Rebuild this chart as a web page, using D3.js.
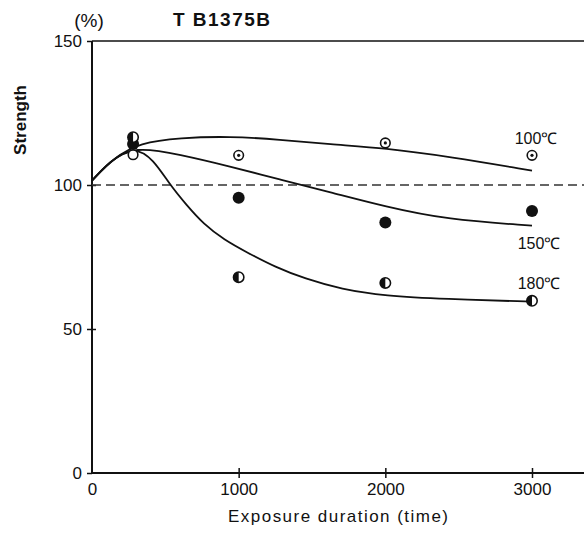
<!DOCTYPE html>
<html>
<head>
<meta charset="utf-8">
<script src="https://cdn.jsdelivr.net/npm/d3@7"></script>
<style>
  body { margin: 0; background: #fff; }
  text { font-family: "Liberation Sans", Arial, sans-serif; fill: #111; }
</style>
</head>
<body>
<div id="chart"></div>
<script>
var svgWidth = 584;
var svgHeight = 533;

// ticks
var xTicks = [0, 1000, 2000, 3000];
var yTicks = [0, 50, 100, 150];

// measured points (exposure time, strength %)
var pts100Time = [280, 1000, 2000, 3000];
var pts100Val = [110.5, 110.3, 114.6, 110.3];
var pts150Time = [280, 1000, 2000, 3000];
var pts150Val = [114.2, 95.6, 87, 91];
var pts180Time = [280, 1000, 2000, 3000];
var pts180Val = [116.6, 68, 66, 59.8];

// fitted curves
var curve100Time = [0, 150, 327, 600, 940, 1280, 1620, 2000, 2440, 3000];
var curve100Val = [101.5, 109.5, 114.7, 116.4, 116.9, 115.8, 114.1, 112.8, 109.8, 105];
var curve150Time = [0, 120, 290, 600, 940, 1280, 1620, 2000, 2418, 3000];
var curve150Val = [101.5, 108.3, 113.5, 110.6, 106.5, 101.9, 97.6, 92.5, 88, 85.9];
var curve180Time = [0, 120, 290, 418, 532, 645, 759, 900, 1060, 1250, 1450, 1700, 2000, 2400, 3000];
var curve180Val = [101.5, 108.3, 113.5, 108.9, 100, 93, 86.5, 81, 76.5, 71.5, 67.5, 63.8, 61.5, 60.4, 59.5];

var seriesLabels = ["100℃", "150℃", "180℃"];

var svg = d3.select("#chart")
  .append("svg")
  .attr("width", svgWidth)
  .attr("height", svgHeight);

var xScale = d3.scaleLinear().domain([0, 3000]).range([92, 532]);
var yScale = d3.scaleLinear().domain([0, 150]).range([473, 41]);

var x0 = xScale(0), yBottom = yScale(0), yTop = yScale(150);

// frame lines (open on the right)
svg.append("line").attr("x1", x0).attr("x2", x0).attr("y1", yTop).attr("y2", yBottom)
  .attr("stroke", "#111").attr("stroke-width", 2);
svg.append("line").attr("x1", x0).attr("x2", svgWidth).attr("y1", yTop).attr("y2", yTop)
  .attr("stroke", "#111").attr("stroke-width", 1.6);
svg.append("line").attr("x1", x0).attr("x2", svgWidth).attr("y1", yBottom).attr("y2", yBottom)
  .attr("stroke", "#111").attr("stroke-width", 2);

// axes: ticks crossing the line
function styleAxis(g) {
  g.select(".domain").remove();
  g.selectAll(".tick line").attr("stroke", "#111").attr("stroke-width", 1.5);
  g.selectAll("text").attr("font-size", 17).attr("fill", "#111")
    .style("font-family", "'Liberation Sans', Arial, sans-serif");
}

svg.append("g")
  .attr("transform", `translate(${x0},0)`)
  .call(d3.axisLeft(yScale).tickValues(yTicks).tickSize(5).tickPadding(5).tickFormat(d3.format("d")))
  .call(styleAxis);
svg.append("g")
  .attr("transform", `translate(${x0},0)`)
  .call(d3.axisRight(yScale).tickValues([50, 100]).tickSize(4).tickFormat(""))
  .call(styleAxis);

var xAxisG = svg.append("g")
  .attr("transform", `translate(0,${yBottom})`)
  .call(d3.axisBottom(xScale).tickValues(xTicks).tickSize(5).tickPadding(5).tickFormat(d3.format("d")))
  .call(styleAxis);
xAxisG.selectAll(".tick").filter(d => d === 0).select("line").remove();
svg.append("g")
  .attr("transform", `translate(0,${yBottom})`)
  .call(d3.axisTop(xScale).tickValues([1000, 2000, 3000]).tickSize(5).tickFormat(""))
  .call(styleAxis);

// 100% reference line
svg.append("line")
  .attr("x1", x0).attr("x2", svgWidth)
  .attr("y1", yScale(100)).attr("y2", yScale(100))
  .attr("stroke", "#333").attr("stroke-width", 1.6)
  .attr("stroke-dasharray", "9,5");

// curves
var line = d3.line()
  .x(d => xScale(d[0]))
  .y(d => yScale(d[1]))
  .curve(d3.curveBasis);

[[curve100Time, curve100Val], [curve150Time, curve150Val], [curve180Time, curve180Val]]
  .forEach(function(c) {
    svg.append("path")
      .datum(d3.zip(c[0], c[1]))
      .attr("d", line)
      .attr("fill", "none")
      .attr("stroke", "#111")
      .attr("stroke-width", 1.8);
  });

// markers: 100 = dotted ring, 150 = filled, 180 = half filled
var m100 = d3.zip(pts100Time, pts100Val);
var m150 = d3.zip(pts150Time, pts150Val);
var m180 = d3.zip(pts180Time, pts180Val);

var g100 = svg.append("g").selectAll("g").data(m100).enter().append("g")
  .attr("transform", d => `translate(${xScale(d[0])},${yScale(d[1])})`);
g100.append("circle").attr("r", 4.8).attr("fill", "#fff").attr("stroke", "#111").attr("stroke-width", 1.6);
g100.filter((d, i) => i > 0).append("circle").attr("r", 1.6).attr("fill", "#111");

svg.append("g").selectAll("circle").data(m150).enter().append("circle")
  .attr("cx", d => xScale(d[0]))
  .attr("cy", d => yScale(d[1]))
  .attr("r", 6)
  .attr("fill", "#111");

var g180 = svg.append("g").selectAll("g").data(m180).enter().append("g")
  .attr("transform", d => `translate(${xScale(d[0])},${yScale(d[1])})`);
g180.append("circle").attr("r", 5.2).attr("fill", "#fff").attr("stroke", "#111").attr("stroke-width", 1.6);
g180.append("path")
  .attr("d", d3.arc()({innerRadius: 0, outerRadius: 5.2, startAngle: Math.PI, endAngle: 2 * Math.PI}))
  .attr("fill", "#111");

// series labels
var labelX = [536, 539, 539];
var labelY = [144, 249, 289];
seriesLabels.forEach(function(s, i) {
  svg.append("text")
    .attr("x", labelX[i]).attr("y", labelY[i])
    .attr("text-anchor", "middle")
    .attr("font-size", 16)
    .text(s);
});

// titles
svg.append("text")
  .attr("x", 89).attr("y", 27)
  .attr("text-anchor", "middle")
  .attr("font-size", 19)
  .text("(%)");

svg.append("text")
  .attr("x", 173).attr("y", 26)
  .attr("font-size", 19)
  .attr("font-weight", "bold")
  .attr("textLength", 97)
  .attr("lengthAdjust", "spacing")
  .text("T B1375B");

svg.append("text")
  .attr("transform", "translate(26,120) rotate(-90)")
  .attr("text-anchor", "middle")
  .attr("font-size", 17)
  .attr("font-weight", "bold")
  .text("Strength");

svg.append("text")
  .attr("x", 228).attr("y", 522)
  .attr("font-size", 17)
  .attr("textLength", 220)
  .attr("lengthAdjust", "spacing")
  .text("Exposure duration (time)");
</script>
</body>
</html>
